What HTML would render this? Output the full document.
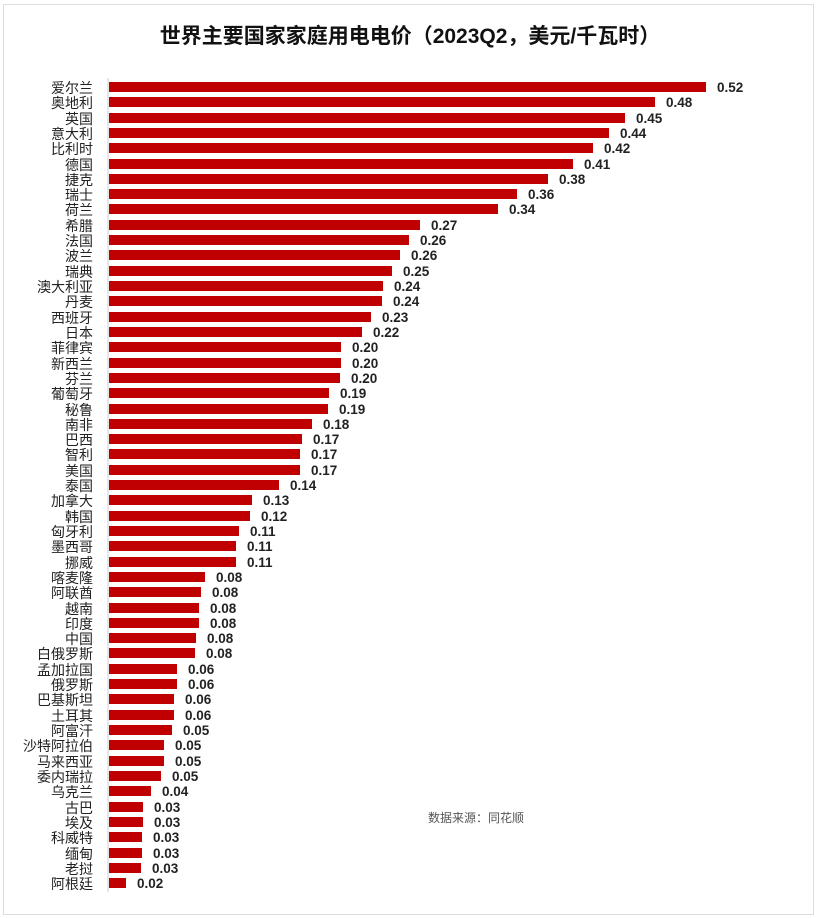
<!DOCTYPE html><html><head><meta charset="utf-8"><style>body{margin:0;background:#fff}svg{display:block}</style></head><body>
<svg width="818" height="918" xmlns="http://www.w3.org/2000/svg">
<rect x="3.5" y="4.5" width="810" height="910" fill="#fff" stroke="#ddd"/>
<text x="410" y="43" text-anchor="middle" font-family="Liberation Sans, Noto Sans CJK SC, sans-serif" font-size="21" font-weight="bold" fill="#111">世界主要国家家庭用电电价（2023Q2，美元/千瓦时）</text>
<line x1="108" y1="78" x2="108" y2="892" stroke="#ccc"/>
<g fill="#c00000">
<rect x="109" y="82" width="597" height="10"/><rect x="109" y="97" width="546" height="10"/><rect x="109" y="113" width="516" height="10"/><rect x="109" y="128" width="500" height="10"/><rect x="109" y="143" width="484" height="10"/><rect x="109" y="159" width="464" height="10"/><rect x="109" y="174" width="439" height="10"/><rect x="109" y="189" width="408" height="10"/><rect x="109" y="204" width="389" height="10"/><rect x="109" y="220" width="311" height="10"/><rect x="109" y="235" width="300" height="10"/><rect x="109" y="250" width="291" height="10"/><rect x="109" y="266" width="283" height="10"/><rect x="109" y="281" width="274" height="10"/><rect x="109" y="296" width="273" height="10"/><rect x="109" y="312" width="262" height="10"/><rect x="109" y="327" width="253" height="10"/><rect x="109" y="342" width="232" height="10"/><rect x="109" y="358" width="232" height="10"/><rect x="109" y="373" width="231" height="10"/><rect x="109" y="388" width="220" height="10"/><rect x="109" y="404" width="219" height="10"/><rect x="109" y="419" width="203" height="10"/><rect x="109" y="434" width="193" height="10"/><rect x="109" y="449" width="191" height="10"/><rect x="109" y="465" width="191" height="10"/><rect x="109" y="480" width="170" height="10"/><rect x="109" y="495" width="143" height="10"/><rect x="109" y="511" width="141" height="10"/><rect x="109" y="526" width="130" height="10"/><rect x="109" y="541" width="127" height="10"/><rect x="109" y="557" width="127" height="10"/><rect x="109" y="572" width="96" height="10"/><rect x="109" y="587" width="92" height="10"/><rect x="109" y="603" width="90" height="10"/><rect x="109" y="618" width="90" height="10"/><rect x="109" y="633" width="87" height="10"/><rect x="109" y="648" width="86" height="10"/><rect x="109" y="664" width="68" height="10"/><rect x="109" y="679" width="68" height="10"/><rect x="109" y="694" width="65" height="10"/><rect x="109" y="710" width="65" height="10"/><rect x="109" y="725" width="63" height="10"/><rect x="109" y="740" width="55" height="10"/><rect x="109" y="756" width="55" height="10"/><rect x="109" y="771" width="52" height="10"/><rect x="109" y="786" width="42" height="10"/><rect x="109" y="802" width="34" height="10"/><rect x="109" y="817" width="34" height="10"/><rect x="109" y="832" width="33" height="10"/><rect x="109" y="848" width="33" height="10"/><rect x="109" y="863" width="32" height="10"/><rect x="109" y="878" width="17" height="10"/>
</g>
<g font-family="Liberation Sans, Noto Sans CJK SC, sans-serif" font-size="14" fill="#222" text-anchor="end">
<text x="93" y="93">爱尔兰</text><text x="93" y="108">奥地利</text><text x="93" y="124">英国</text><text x="93" y="139">意大利</text><text x="93" y="154">比利时</text><text x="93" y="170">德国</text><text x="93" y="185">捷克</text><text x="93" y="200">瑞士</text><text x="93" y="215">荷兰</text><text x="93" y="231">希腊</text><text x="93" y="246">法国</text><text x="93" y="261">波兰</text><text x="93" y="277">瑞典</text><text x="93" y="292">澳大利亚</text><text x="93" y="307">丹麦</text><text x="93" y="323">西班牙</text><text x="93" y="338">日本</text><text x="93" y="353">菲律宾</text><text x="93" y="369">新西兰</text><text x="93" y="384">芬兰</text><text x="93" y="399">葡萄牙</text><text x="93" y="415">秘鲁</text><text x="93" y="430">南非</text><text x="93" y="445">巴西</text><text x="93" y="460">智利</text><text x="93" y="476">美国</text><text x="93" y="491">泰国</text><text x="93" y="506">加拿大</text><text x="93" y="522">韩国</text><text x="93" y="537">匈牙利</text><text x="93" y="552">墨西哥</text><text x="93" y="568">挪威</text><text x="93" y="583">喀麦隆</text><text x="93" y="598">阿联酋</text><text x="93" y="614">越南</text><text x="93" y="629">印度</text><text x="93" y="644">中国</text><text x="93" y="659">白俄罗斯</text><text x="93" y="675">孟加拉国</text><text x="93" y="690">俄罗斯</text><text x="93" y="705">巴基斯坦</text><text x="93" y="721">土耳其</text><text x="93" y="736">阿富汗</text><text x="93" y="751">沙特阿拉伯</text><text x="93" y="767">马来西亚</text><text x="93" y="782">委内瑞拉</text><text x="93" y="797">乌克兰</text><text x="93" y="813">古巴</text><text x="93" y="828">埃及</text><text x="93" y="843">科威特</text><text x="93" y="859">缅甸</text><text x="93" y="874">老挝</text><text x="93" y="889">阿根廷</text>
</g>
<g font-family="Liberation Sans, sans-serif" font-size="13.5" font-weight="bold" fill="#222">
<text x="717" y="92">0.52</text><text x="666" y="107">0.48</text><text x="636" y="123">0.45</text><text x="620" y="138">0.44</text><text x="604" y="153">0.42</text><text x="584" y="169">0.41</text><text x="559" y="184">0.38</text><text x="528" y="199">0.36</text><text x="509" y="214">0.34</text><text x="431" y="230">0.27</text><text x="420" y="245">0.26</text><text x="411" y="260">0.26</text><text x="403" y="276">0.25</text><text x="394" y="291">0.24</text><text x="393" y="306">0.24</text><text x="382" y="322">0.23</text><text x="373" y="337">0.22</text><text x="352" y="352">0.20</text><text x="352" y="368">0.20</text><text x="351" y="383">0.20</text><text x="340" y="398">0.19</text><text x="339" y="414">0.19</text><text x="323" y="429">0.18</text><text x="313" y="444">0.17</text><text x="311" y="459">0.17</text><text x="311" y="475">0.17</text><text x="290" y="490">0.14</text><text x="263" y="505">0.13</text><text x="261" y="521">0.12</text><text x="250" y="536">0.11</text><text x="247" y="551">0.11</text><text x="247" y="567">0.11</text><text x="216" y="582">0.08</text><text x="212" y="597">0.08</text><text x="210" y="613">0.08</text><text x="210" y="628">0.08</text><text x="207" y="643">0.08</text><text x="206" y="658">0.08</text><text x="188" y="674">0.06</text><text x="188" y="689">0.06</text><text x="185" y="704">0.06</text><text x="185" y="720">0.06</text><text x="183" y="735">0.05</text><text x="175" y="750">0.05</text><text x="175" y="766">0.05</text><text x="172" y="781">0.05</text><text x="162" y="796">0.04</text><text x="154" y="812">0.03</text><text x="154" y="827">0.03</text><text x="153" y="842">0.03</text><text x="153" y="858">0.03</text><text x="152" y="873">0.03</text><text x="137" y="888">0.02</text>
</g>
<text x="428" y="822" font-family="Liberation Sans, Noto Sans CJK SC, sans-serif" font-size="12" fill="#555">数据来源：同花顺</text>
</svg></body></html>
